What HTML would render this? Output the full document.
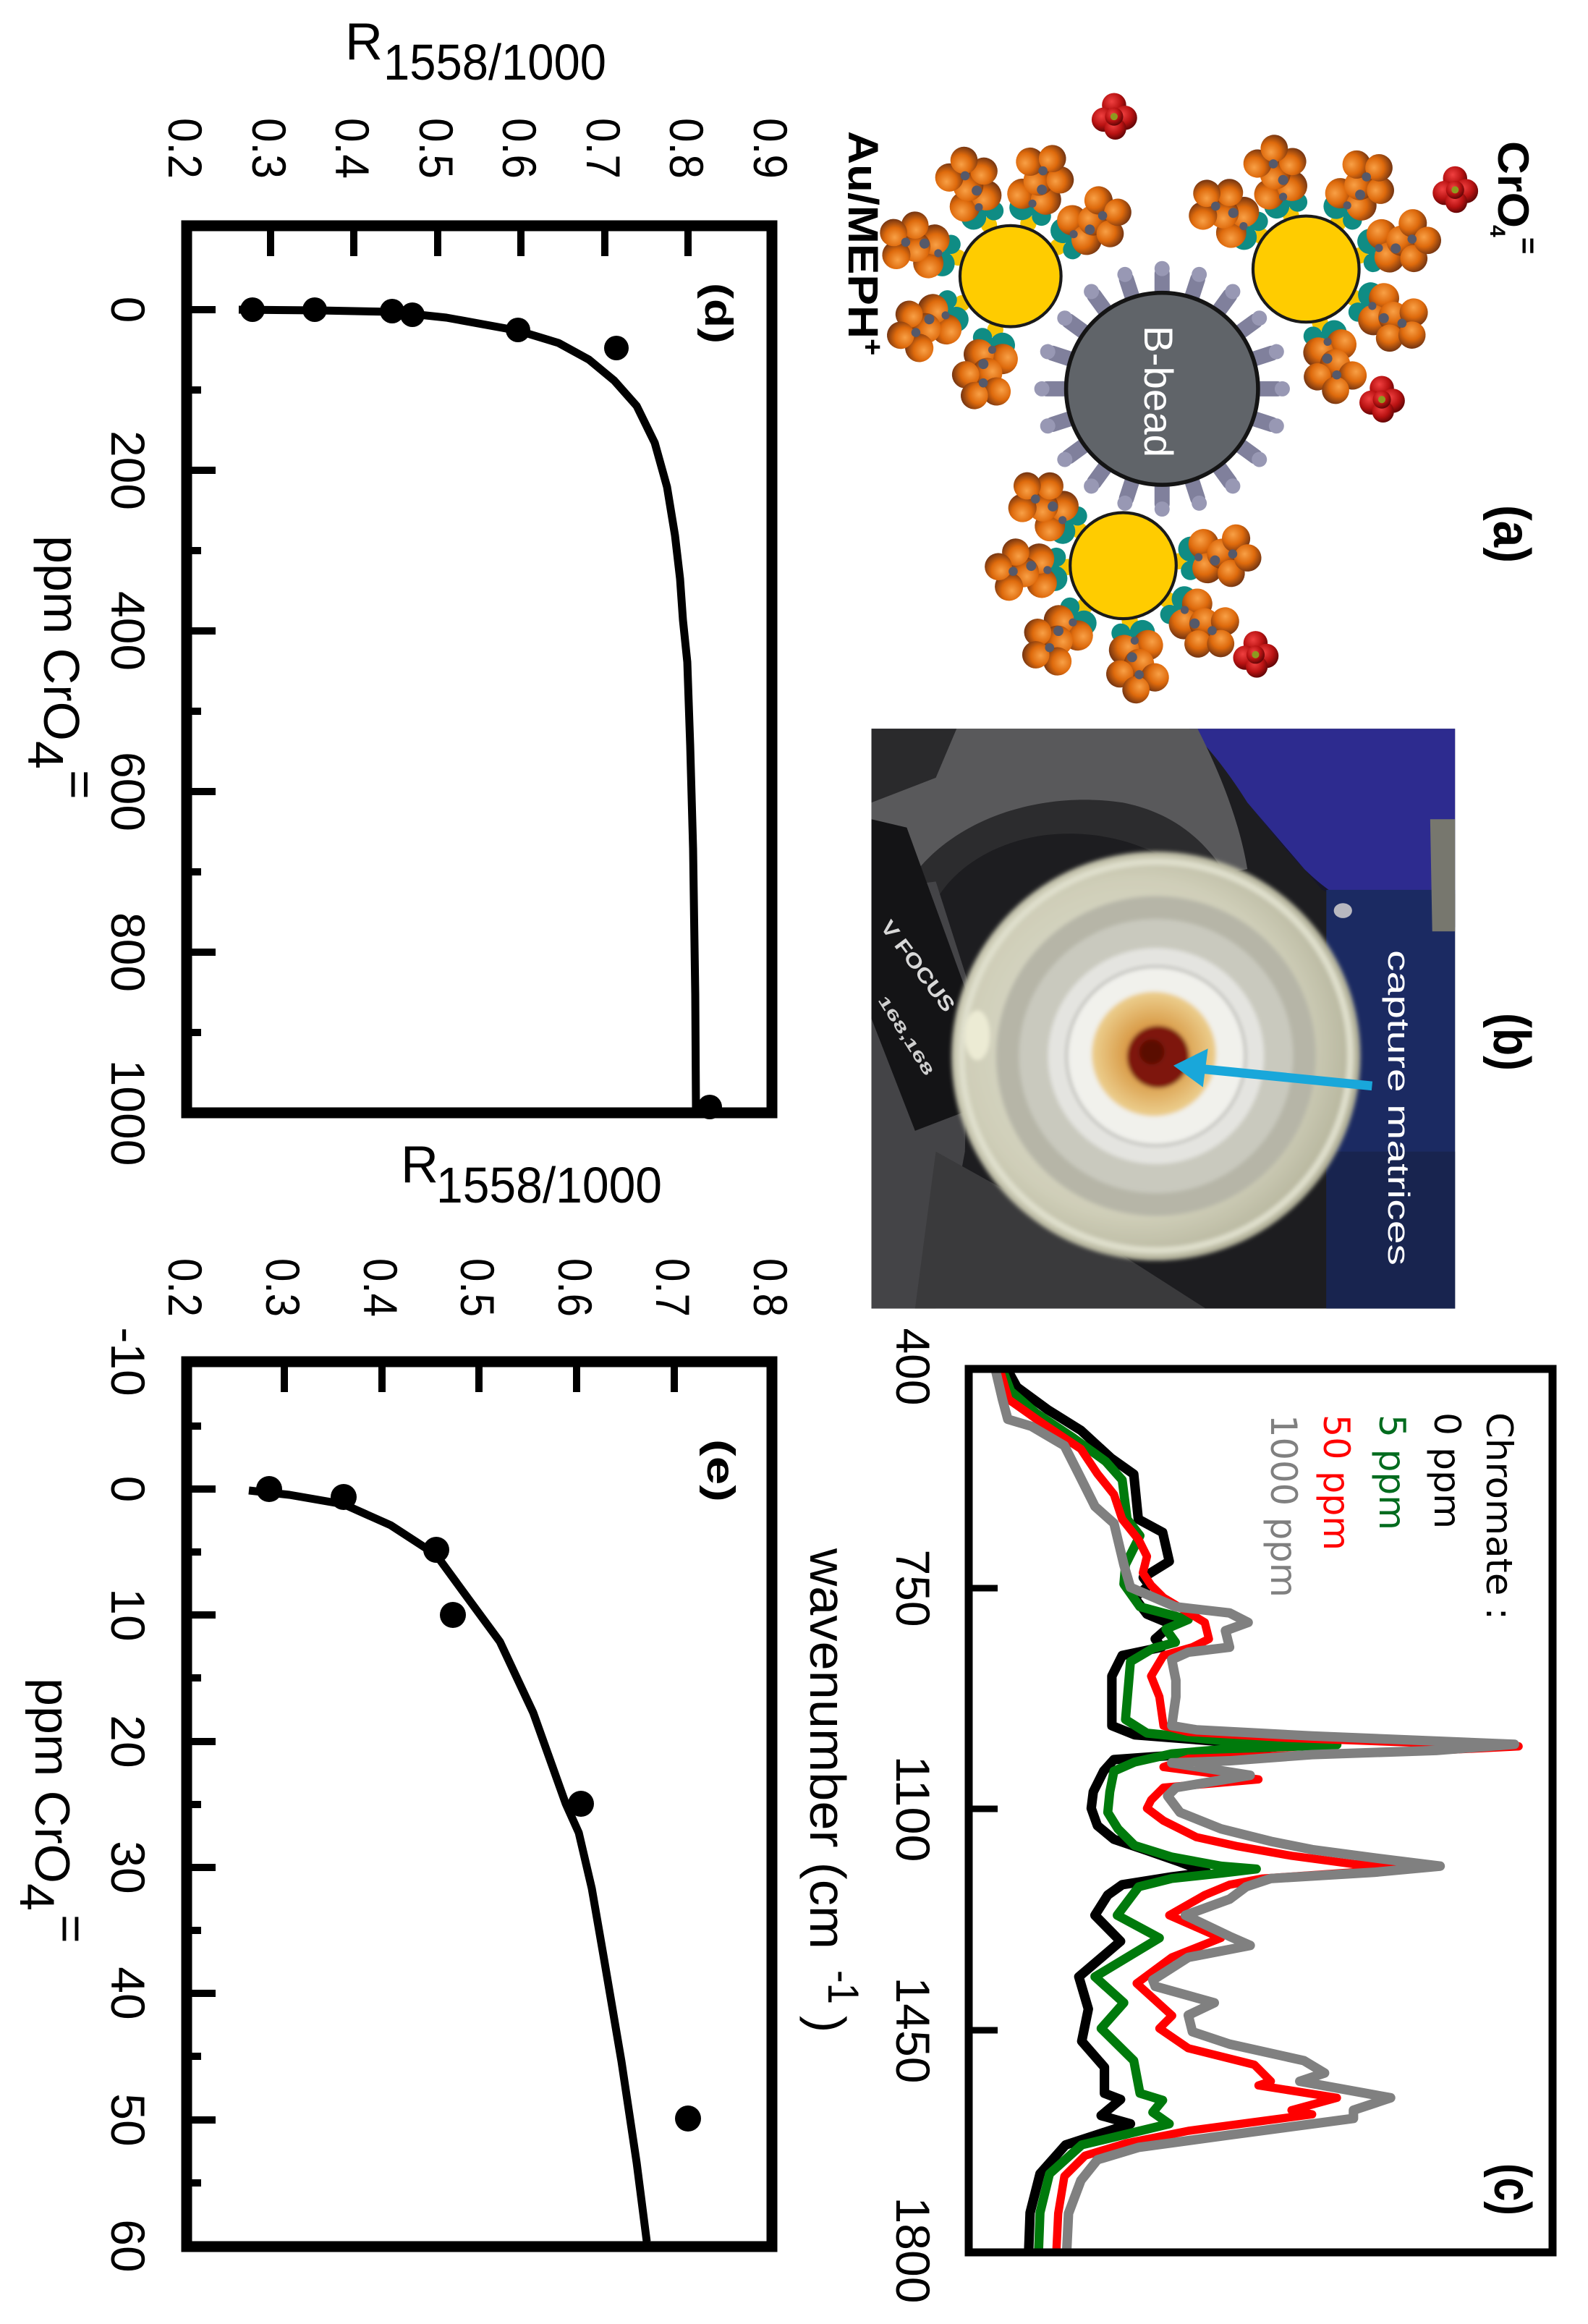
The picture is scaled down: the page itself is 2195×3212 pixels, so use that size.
<!DOCTYPE html>
<html><head><meta charset="utf-8"><style>
html,body{margin:0;padding:0;background:#fff;}
svg{display:block;}
text{font-family:"Liberation Sans",Arial,sans-serif;}
.dj{font-family:"DejaVu Sans","Liberation Sans",sans-serif;}
</style></head><body>
<svg xmlns="http://www.w3.org/2000/svg" width="2195" height="3212" viewBox="0 0 2195 3212">
<defs>
<radialGradient id="og" cx="40%" cy="35%" r="65%"><stop offset="0" stop-color="#f8a046"/><stop offset="0.55" stop-color="#de6a0c"/><stop offset="1" stop-color="#7a3812"/></radialGradient>
<radialGradient id="rg" cx="40%" cy="35%" r="65%"><stop offset="0" stop-color="#f04040"/><stop offset="0.6" stop-color="#b81212"/><stop offset="1" stop-color="#650606"/></radialGradient>
<radialGradient id="lens" cx="45%" cy="48%" r="55%"><stop offset="0" stop-color="#e4e4da"/><stop offset="0.75" stop-color="#cfceb8"/><stop offset="1" stop-color="#b3b29a"/></radialGradient>
<radialGradient id="goldm" cx="50%" cy="50%" r="50%"><stop offset="0" stop-color="#c8602a"/><stop offset="0.5" stop-color="#dba04e"/><stop offset="1" stop-color="#ecd090"/></radialGradient>
<filter id="bl" x="-10%" y="-10%" width="120%" height="120%"><feGaussianBlur stdDeviation="5"/></filter>
<g id="meph">
<circle cx="110" cy="0" r="16" fill="#f5c400"/>
<circle cx="136" cy="-22" r="25" fill="#0f8c84"/>
<circle cx="132" cy="20" r="19" fill="#0f8c84"/>
<circle cx="162" cy="-30" r="30" fill="url(#og)"/>
<circle cx="166" cy="18" r="30" fill="url(#og)"/>
<circle cx="197" cy="-8" r="30" fill="url(#og)"/>
<circle cx="212" cy="32" r="27" fill="url(#og)"/>
<circle cx="227" cy="-36" r="28" fill="url(#og)"/>
<circle cx="247" cy="4" r="27" fill="url(#og)"/>
<circle cx="182" cy="4" r="10" fill="#55596a"/>
<circle cx="218" cy="-6" r="9" fill="#55596a"/>
<circle cx="150" cy="-5" r="8" fill="#55596a"/>
</g>
<g id="cro">
<circle cx="0" cy="-18" r="20" fill="url(#rg)"/>
<circle cx="18" cy="3" r="20" fill="url(#rg)"/>
<circle cx="-17" cy="6" r="20" fill="url(#rg)"/>
<circle cx="2" cy="21" r="18" fill="url(#rg)"/>
<circle cx="0" cy="1" r="15" fill="url(#rg)"/>
<circle cx="0" cy="1" r="6" fill="#8e9a20"/>
</g>
<g id="br">
<line x1="180" y1="0" x2="228" y2="0" stroke="#80809c" stroke-width="30" stroke-linecap="round"/>
<circle cx="238" cy="0" r="15" fill="#9898b4"/>
</g>
<clipPath id="sc"><rect x="68" y="118" width="1414" height="2148"/></clipPath>
<clipPath id="pc"><rect x="95" y="82" width="1405" height="1396"/></clipPath>
</defs>
<rect width="2195" height="3212" fill="#fff"/>

<!-- ================= PANEL D ================= -->
<text x="477" y="82" font-size="72">R</text>
<text x="530" y="110" font-size="70" textLength="308" lengthAdjust="spacingAndGlyphs">1558/1000</text>
<g font-size="66" text-anchor="end">
<text transform="translate(233,247) rotate(90)" textLength="84" lengthAdjust="spacingAndGlyphs">0.2</text>
<text transform="translate(349,247) rotate(90)" textLength="84" lengthAdjust="spacingAndGlyphs">0.3</text>
<text transform="translate(464,247) rotate(90)" textLength="84" lengthAdjust="spacingAndGlyphs">0.4</text>
<text transform="translate(580,247) rotate(90)" textLength="84" lengthAdjust="spacingAndGlyphs">0.5</text>
<text transform="translate(695,247) rotate(90)" textLength="84" lengthAdjust="spacingAndGlyphs">0.6</text>
<text transform="translate(811,247) rotate(90)" textLength="84" lengthAdjust="spacingAndGlyphs">0.7</text>
<text transform="translate(926,247) rotate(90)" textLength="84" lengthAdjust="spacingAndGlyphs">0.8</text>
<text transform="translate(1042,247) rotate(90)" textLength="84" lengthAdjust="spacingAndGlyphs">0.9</text>
</g>
<g font-size="66" text-anchor="middle">
<text transform="translate(154,428) rotate(90)">0</text>
<text transform="translate(154,650) rotate(90)">200</text>
<text transform="translate(154,872) rotate(90)">400</text>
<text transform="translate(154,1094) rotate(90)">600</text>
<text transform="translate(154,1316) rotate(90)">800</text>
<text transform="translate(154,1538) rotate(90)">1000</text>
</g>
<text transform="translate(61,740) rotate(90)" font-size="70"><tspan x="0" y="0" textLength="284" lengthAdjust="spacingAndGlyphs">ppm CrO</tspan><tspan x="284" y="22">4</tspan><tspan x="324" y="-26">=</tspan></text>
<text transform="translate(975,391) rotate(90)" font-size="54" font-weight="bold" textLength="84" lengthAdjust="spacingAndGlyphs">(d)</text>
<path d="M374 312V354M489 312V354M605 312V354M720 312V354M836 312V354M951 312V354M258 428H298M258 650H298M258 872H298M258 1094H298M258 1316H298M258 539H278M258 761H278M258 983H278M258 1205H278M258 1427H278" stroke="#000" stroke-width="10" fill="none"/>
<polyline points="330,428 440,429 542,431 617,439 716,457 772,474 814,497 849,526 880,561 905,612 922,673 933,740 940,800 944,857 950,915 954,1030 958,1173 961,1374 962,1532" fill="none" stroke="#000" stroke-width="11" stroke-linejoin="round"/>
<g fill="#000">
<circle cx="349" cy="428" r="17"/><circle cx="435" cy="428" r="17"/><circle cx="542" cy="430" r="17"/><circle cx="570" cy="435" r="17"/><circle cx="716" cy="456" r="17"/><circle cx="852" cy="481" r="17"/><circle cx="981" cy="1530" r="17"/>
</g>
<rect x="258" y="312" width="809" height="1226" fill="none" stroke="#000" stroke-width="15"/>

<!-- ================= PANEL E ================= -->
<text x="554" y="1634" font-size="72">R</text>
<text x="603" y="1662" font-size="70" textLength="312" lengthAdjust="spacingAndGlyphs">1558/1000</text>
<g font-size="66" text-anchor="end">
<text transform="translate(233,1820) rotate(90)" textLength="81" lengthAdjust="spacingAndGlyphs">0.2</text>
<text transform="translate(368,1820) rotate(90)" textLength="81" lengthAdjust="spacingAndGlyphs">0.3</text>
<text transform="translate(503,1820) rotate(90)" textLength="81" lengthAdjust="spacingAndGlyphs">0.4</text>
<text transform="translate(637,1820) rotate(90)" textLength="81" lengthAdjust="spacingAndGlyphs">0.5</text>
<text transform="translate(772,1820) rotate(90)" textLength="81" lengthAdjust="spacingAndGlyphs">0.6</text>
<text transform="translate(907,1820) rotate(90)" textLength="81" lengthAdjust="spacingAndGlyphs">0.7</text>
<text transform="translate(1042,1820) rotate(90)" textLength="81" lengthAdjust="spacingAndGlyphs">0.8</text>
</g>
<g font-size="66" text-anchor="middle">
<text transform="translate(154,1882) rotate(90)">-10</text>
<text transform="translate(154,2058) rotate(90)">0</text>
<text transform="translate(154,2232) rotate(90)">10</text>
<text transform="translate(154,2407) rotate(90)">20</text>
<text transform="translate(154,2581) rotate(90)">30</text>
<text transform="translate(154,2755) rotate(90)">40</text>
<text transform="translate(154,2930) rotate(90)">50</text>
<text transform="translate(154,3104) rotate(90)">60</text>
</g>
<text transform="translate(49,2319) rotate(90)" font-size="68"><tspan x="0" y="0" textLength="284" lengthAdjust="spacingAndGlyphs">ppm CrO</tspan><tspan x="284" y="21">4</tspan><tspan x="327" y="-26">=</tspan></text>
<text transform="translate(978,1989) rotate(90)" font-size="54" font-weight="bold" textLength="87" lengthAdjust="spacingAndGlyphs">(e)</text>
<path d="M393 1882V1924M528 1882V1924M662 1882V1924M797 1882V1924M932 1882V1924M258 2058H298M258 2232H298M258 2407H298M258 2581H298M258 2755H298M258 2930H298M258 1971H278M258 2145H278M258 2319H278M258 2494H278M258 2668H278M258 2842H278M258 3017H278" stroke="#000" stroke-width="10" fill="none"/>
<polyline points="344,2060 400,2066 475,2079 540,2108 603,2149 652,2216 691,2269 737,2367 782,2493 800,2533 818,2610 835,2708 859,2849 880,2989 894,3098" fill="none" stroke="#000" stroke-width="11" stroke-linejoin="round"/>
<g fill="#000">
<circle cx="372" cy="2058" r="18"/><circle cx="475" cy="2069" r="18"/><circle cx="603" cy="2142" r="18"/><circle cx="626" cy="2232" r="18"/><circle cx="803" cy="2493" r="18"/><circle cx="951" cy="2928" r="18"/>
</g>
<rect x="258" y="1882" width="809" height="1223" fill="none" stroke="#000" stroke-width="15"/>

<!-- ================= PANEL C ================= -->
<g font-size="66" text-anchor="middle">
<text transform="translate(1239,1889) rotate(90)" textLength="107" lengthAdjust="spacingAndGlyphs">400</text>
<text transform="translate(1239,2195) rotate(90)" textLength="107" lengthAdjust="spacingAndGlyphs">750</text>
<text transform="translate(1239,2500) rotate(90)" textLength="147" lengthAdjust="spacingAndGlyphs">1100</text>
<text transform="translate(1239,2806) rotate(90)" textLength="147" lengthAdjust="spacingAndGlyphs">1450</text>
<text transform="translate(1239,3110) rotate(90)" textLength="147" lengthAdjust="spacingAndGlyphs">1800</text>
</g>
<text transform="translate(1120,2140) rotate(90)" font-size="70"><tspan x="0" y="0" textLength="554" lengthAdjust="spacingAndGlyphs">wavenumber (cm</tspan><tspan x="583" y="-25" font-size="60" textLength="47" lengthAdjust="spacingAndGlyphs">-1</tspan><tspan x="646" y="0">)</tspan></text>
<g transform="translate(1300,1820) scale(0.5708)" clip-path="url(#sc)" fill="none" stroke-linejoin="round" stroke-linecap="round">
<polyline stroke="#000" stroke-width="23" points="155,115 185,170 260,225 340,275 413,342 468,381 479,490 538,522 554,592 491,631 505,650 470,680 500,720 560,745 520,780 535,800 440,820 415,870 415,990 470,1012 700,1030 820,1040 700,1052 560,1062 420,1072 395,1100 370,1150 365,1190 380,1232 420,1265 500,1292 580,1320 645,1345 560,1356 440,1375 405,1400 374,1449 436,1512 335,1598 358,1676 342,1754 397,1817 397,1880 436,1895 389,1934 460,1954 303,2005 241,2075 217,2169 213,2275"/>
<polyline stroke="#007a0c" stroke-width="22" points="145,115 170,180 230,232 320,292 400,350 440,395 452,490 483,530 448,600 444,647 483,702 600,733 546,756 569,788 514,803 460,835 448,975 500,1008 700,1028 960,1036 700,1046 560,1058 470,1078 420,1100 410,1150 405,1200 430,1240 470,1280 560,1308 680,1330 765,1337 680,1347 560,1360 480,1380 428,1449 530,1504 374,1598 444,1661 389,1723 468,1801 483,1880 538,1897 514,1926 554,1954 342,2005 264,2075 241,2169 237,2275"/>
<polyline stroke="#ff0000" stroke-width="20" points="140,115 165,200 250,260 340,320 380,380 420,430 440,490 480,540 500,580 490,620 510,650 540,680 640,740 650,780 610,800 540,820 510,870 530,920 540,990 600,1005 850,1020 1230,1034 1400,1040 1200,1050 900,1060 600,1070 540,1090 770,1120 540,1140 510,1170 500,1190 540,1220 620,1260 720,1282 850,1305 1000,1325 1120,1335 1000,1345 780,1360 700,1375 640,1400 554,1449 679,1504 560,1551 475,1614 561,1692 530,1723 600,1771 760,1811 800,1851 770,1861 960,1891 850,1921 900,1931 600,1971 450,2001 350,2031 300,2081 285,2171 280,2275"/>
<polyline stroke="#808080" stroke-width="23" points="130,115 150,200 163,248 220,265 300,312 335,381 374,459 420,500 444,600 460,655 569,702 700,717 745,740 690,760 700,800 600,812 560,830 570,880 570,920 560,990 620,1000 900,1015 1390,1035 1200,1050 900,1060 700,1075 560,1080 750,1110 570,1140 550,1160 580,1200 680,1240 800,1270 900,1290 1050,1310 1210,1330 1050,1345 800,1360 740,1380 700,1410 593,1449 700,1500 750,1522 600,1551 514,1606 520,1621 663,1661 600,1691 610,1731 700,1761 880,1801 930,1831 870,1851 1090,1891 1000,1921 1000,1941 700,1981 480,2011 380,2041 340,2091 310,2171 305,2275"/>
</g>
<path d="M1339 2195H1379M1339 2500H1379M1339 2806H1379" stroke="#000" stroke-width="9" fill="none"/>
<rect x="1339" y="1892" width="807" height="1221" fill="none" stroke="#000" stroke-width="11"/>
<g class="dj" font-size="50">
<text class="dj" transform="translate(2055,1952) rotate(90)" fill="#000" textLength="287" lengthAdjust="spacingAndGlyphs">Chromate :</text>
<text class="dj" transform="translate(1983,1952) rotate(90)" fill="#000" textLength="161" lengthAdjust="spacingAndGlyphs">0 ppm</text>
<text class="dj" transform="translate(1907,1955) rotate(90)" fill="#006b1e" textLength="160" lengthAdjust="spacingAndGlyphs">5 ppm</text>
<text class="dj" transform="translate(1830,1955) rotate(90)" fill="#ff0000" textLength="188" lengthAdjust="spacingAndGlyphs">50 ppm</text>
<text class="dj" transform="translate(1757,1955) rotate(90)" fill="#808080" textLength="253" lengthAdjust="spacingAndGlyphs">1000 ppm</text>
</g>
<text transform="translate(2066,2990) rotate(90)" font-size="72" font-weight="bold" textLength="72" lengthAdjust="spacingAndGlyphs">(c)</text>

<!-- ================= PANEL A ================= -->
<g transform="translate(1100,80) scale(0.6983)">
<g transform="translate(725,655)">
<use href="#br" transform="rotate(0)"/><use href="#br" transform="rotate(18)"/><use href="#br" transform="rotate(36)"/><use href="#br" transform="rotate(54)"/><use href="#br" transform="rotate(72)"/><use href="#br" transform="rotate(90)"/><use href="#br" transform="rotate(108)"/><use href="#br" transform="rotate(126)"/><use href="#br" transform="rotate(144)"/><use href="#br" transform="rotate(162)"/><use href="#br" transform="rotate(180)"/><use href="#br" transform="rotate(198)"/><use href="#br" transform="rotate(216)"/><use href="#br" transform="rotate(234)"/><use href="#br" transform="rotate(252)"/><use href="#br" transform="rotate(270)"/><use href="#br" transform="rotate(288)"/><use href="#br" transform="rotate(306)"/><use href="#br" transform="rotate(324)"/><use href="#br" transform="rotate(342)"/>
</g>
<circle cx="725" cy="655" r="190" fill="#606469" stroke="#141414" stroke-width="8"/>
<use href="#meph" transform="translate(425,432) rotate(-112.8)"/>
<use href="#meph" transform="translate(425,432) rotate(-71.3)"/>
<use href="#meph" transform="translate(425,432) rotate(-31.7)"/>
<use href="#meph" transform="translate(425,432) rotate(-160.5)"/>
<use href="#meph" transform="translate(425,432) rotate(150.8)"/>
<use href="#meph" transform="translate(425,432) rotate(105.9)"/>
<use href="#meph" transform="translate(1010,418) rotate(-143.6)"/>
<use href="#meph" transform="translate(1010,418) rotate(-105.7)"/>
<use href="#meph" transform="translate(1010,418) rotate(-55.2)"/>
<use href="#meph" transform="translate(1010,418) rotate(-14.2)"/>
<use href="#meph" transform="translate(1010,418) rotate(31)"/>
<use href="#meph" transform="translate(1010,418) rotate(75.4)"/>
<use href="#meph" transform="translate(648,1005) rotate(-141.2)"/>
<use href="#meph" transform="translate(648,1005) rotate(178.6)"/>
<use href="#meph" transform="translate(648,1005) rotate(133.5)"/>
<use href="#meph" transform="translate(648,1005) rotate(83.2)"/>
<use href="#meph" transform="translate(648,1005) rotate(37.7)"/>
<use href="#meph" transform="translate(648,1005) rotate(-4.5)"/>
<circle cx="425" cy="432" r="100" fill="#ffcc00" stroke="#1a1a1a" stroke-width="6"/>
<circle cx="1010" cy="418" r="105" fill="#ffcc00" stroke="#1a1a1a" stroke-width="6"/>
<circle cx="648" cy="1005" r="105" fill="#ffcc00" stroke="#1a1a1a" stroke-width="6"/>
<use href="#cro" transform="translate(630,115) scale(1.2)"/>
<use href="#cro" transform="translate(1305,260) scale(1.2)"/>
<use href="#cro" transform="translate(1160,675) scale(1.2)"/>
<use href="#cro" transform="translate(910,1180) scale(1.2)"/>
</g>
<text transform="translate(1582,450) rotate(90)" font-size="56" fill="#fff" textLength="182" lengthAdjust="spacingAndGlyphs">B-bead</text>
<text transform="translate(1173,181) rotate(90)" font-size="58" font-weight="bold"><tspan x="0" y="0" textLength="287" lengthAdjust="spacingAndGlyphs">Au/MEPH</tspan><tspan x="287" y="-20" font-size="40">+</tspan></text>
<text transform="translate(2071,195) rotate(90)" font-size="60" font-weight="bold"><tspan x="0" y="0" textLength="120" lengthAdjust="spacingAndGlyphs">CrO</tspan><tspan x="116" y="11" font-size="30">4</tspan><tspan x="133" y="-28" font-size="40">=</tspan></text>
<text transform="translate(2065,698) rotate(90)" font-size="72" font-weight="bold" textLength="80" lengthAdjust="spacingAndGlyphs">(a)</text>

<!-- ================= PANEL B (photo) ================= -->
<g transform="translate(1150,960) scale(0.5742)" clip-path="url(#pc)">
<rect x="95" y="82" width="1405" height="1396" fill="#1d1d20"/>
<path d="M860 82H1500V480H1210C1120 420 1060 330 1000 260C950 180 900 120 860 82Z" fill="#2d2b8f"/>
<path d="M1000 260C1060 330 1120 420 1210 480H1500V560H1380L1180 470Z" fill="#16162a"/>
<rect x="1190" y="470" width="310" height="1008" fill="#1b2a62"/>
<rect x="1190" y="1100" width="310" height="378" fill="#18244f"/>
<path d="M1440 300H1500V570H1445Z" fill="#77776e"/>
<ellipse cx="1230" cy="520" rx="22" ry="18" fill="#b8b8c0"/>
<path d="M95 82H880C930 180 980 300 1000 420L900 440C800 330 650 280 480 300C380 320 300 380 250 450L95 470Z" fill="#59595b"/>
<path d="M200 430C300 300 500 230 700 260C800 280 880 330 940 420L860 440C780 360 640 320 500 340C380 360 300 420 260 480Z" fill="#2c2c2e"/>
<path d="M95 82H300L250 200L95 260Z" fill="#2a2a2c"/>
<path d="M95 470L250 450L330 700L320 1100L250 1478H95Z" fill="#444447"/>
<path d="M95 300L180 320L340 760L330 1000L200 1050L95 780Z" fill="#141416"/>
<path d="M250 1100L700 1350L900 1478H200Z" fill="#3a3a3c"/>
<g filter="url(#bl)">
<circle cx="780" cy="870" r="492" fill="url(#lens)"/>
<circle cx="780" cy="870" r="468" fill="none" stroke="#dfdfcc" stroke-width="16"/>
<circle cx="780" cy="870" r="385" fill="#b6b5a7"/>
<circle cx="780" cy="870" r="330" fill="#c9c9be"/>
<circle cx="780" cy="870" r="260" fill="#e4e4e0"/>
<circle cx="780" cy="870" r="215" fill="#f1f1ec" stroke="#9a9a94" stroke-width="4"/>
<circle cx="775" cy="865" r="150" fill="url(#goldm)"/>
<circle cx="785" cy="872" r="75" fill="#7e1608"/>
<circle cx="770" cy="860" r="30" fill="#5a0c04"/>
<ellipse cx="350" cy="820" rx="30" ry="60" fill="#ecebd4"/>
</g>
<line x1="1300" y1="942" x2="880" y2="900" stroke="#19a7da" stroke-width="22"/>
<polygon points="822,893 905,852 893,945" fill="#19a7da"/>
</g>
<text transform="translate(1919,1313) rotate(90)" font-size="42" fill="#fff" textLength="436" lengthAdjust="spacingAndGlyphs">capture matrices</text>
<text transform="translate(1216,1281) rotate(53)" font-size="28" font-weight="bold" fill="#d8d8d8" textLength="150" lengthAdjust="spacingAndGlyphs">V FOCUS</text>
<text transform="translate(1213,1382) rotate(58)" font-size="20" font-weight="bold" fill="#cfcfcf" textLength="125" lengthAdjust="spacingAndGlyphs">168,168</text>
<text transform="translate(2065,1400) rotate(90)" font-size="72" font-weight="bold" textLength="80" lengthAdjust="spacingAndGlyphs">(b)</text>
</svg>
</body></html>
